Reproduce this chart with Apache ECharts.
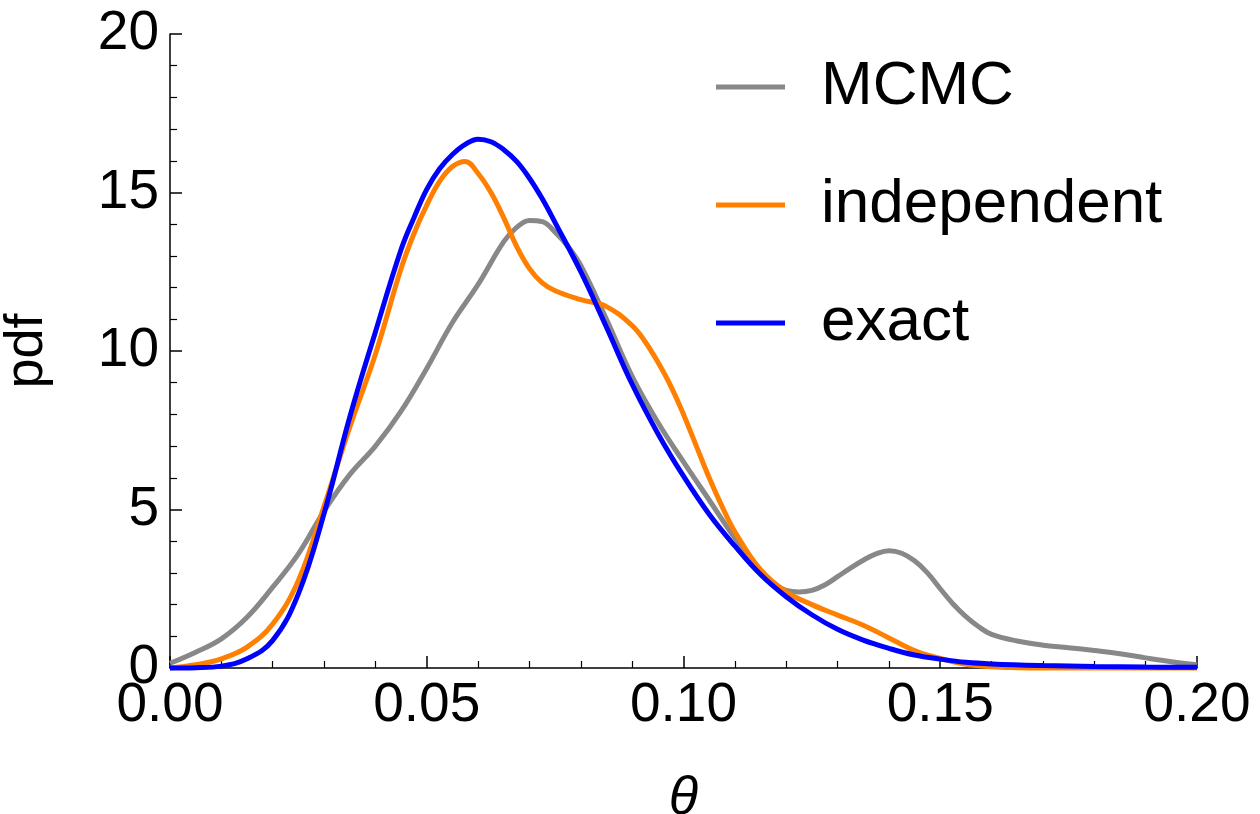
<!DOCTYPE html>
<html>
<head>
<meta charset="utf-8">
<script src="https://cdn.jsdelivr.net/npm/echarts@6/dist/echarts.min.js"></script>
<style>
html,body{margin:0;padding:0;background:#fff;}
#chart{width:1260px;height:814px;}
</style>
</head>
<body>
<div id="chart"></div>
<script>
const mcmcTheta = [0,0.005,0.01,0.015,0.02,0.025,0.03,0.035,0.04,0.045,0.05,0.055,0.06,0.065,0.0675,0.07,0.0725,0.075,0.0775,0.08,0.085,0.09,0.095,0.10,0.105,0.11,0.115,0.1175,0.12,0.1225,0.125,0.1275,0.13,0.1325,0.135,0.1375,0.14,0.1425,0.145,0.1475,0.15,0.1525,0.155,0.1575,0.16,0.165,0.17,0.175,0.18,0.185,0.19,0.195,0.20];
const mcmcValues = [0.15,0.5,0.92,1.6,2.55,3.6,4.95,6.1,7.0,8.1,9.45,10.9,12.1,13.45,13.9,14.12,14.08,13.75,13.3,12.7,11.0,9.2,7.75,6.5,5.3,4.1,3.05,2.65,2.45,2.4,2.45,2.62,2.88,3.15,3.4,3.6,3.7,3.62,3.38,3.0,2.5,2.02,1.62,1.3,1.06,0.85,0.72,0.64,0.55,0.45,0.32,0.2,0.1];
const independentTheta = [0,0.005,0.01,0.015,0.02,0.025,0.03,0.035,0.04,0.045,0.0475,0.05,0.0525,0.055,0.0575,0.06,0.0625,0.065,0.0675,0.07,0.0725,0.075,0.08,0.085,0.09,0.0925,0.095,0.0975,0.10,0.1025,0.105,0.1075,0.11,0.115,0.12,0.125,0.13,0.135,0.14,0.145,0.15,0.155,0.16,0.165,0.17,0.18,0.19,0.20];
const independentValues = [0,0.1,0.29,0.66,1.39,2.76,5.1,7.6,9.9,12.6,13.7,14.6,15.35,15.82,15.98,15.6,15.0,14.2,13.3,12.6,12.15,11.9,11.62,11.4,10.8,10.3,9.65,8.9,8.0,7.0,6.0,5.1,4.3,3.1,2.4,2.0,1.67,1.35,0.95,0.55,0.3,0.12,0.04,0.01,0,0,0,0];
const exactTheta = [0,0.005,0.01,0.015,0.02,0.025,0.03,0.035,0.04,0.045,0.0475,0.05,0.0525,0.055,0.0575,0.06,0.0625,0.065,0.0675,0.07,0.0725,0.075,0.08,0.085,0.09,0.095,0.10,0.105,0.11,0.115,0.12,0.125,0.13,0.135,0.14,0.145,0.15,0.155,0.16,0.17,0.18,0.19,0.20];
const exactValues = [0,0.01,0.06,0.29,0.87,2.34,4.87,7.91,10.6,13.2,14.2,15.1,15.75,16.2,16.52,16.68,16.6,16.35,15.98,15.45,14.8,14.05,12.5,10.75,8.95,7.4,6.05,4.85,3.85,2.95,2.25,1.68,1.22,0.88,0.62,0.41,0.28,0.18,0.13,0.08,0.05,0.03,0.02];
const seriesNames = ['MCMC','independent','exact'];
const seriesColors = ['#888888','#ff8000','#0000ff'];
const xTicks = {min:0, max:0.2, interval:0.05};
const yTicks = {min:0, max:20, interval:5};

const pairs = (xs, ys) => xs.map((t,i)=>[t, ys[i]]);
const allData = [pairs(mcmcTheta, mcmcValues), pairs(independentTheta, independentValues), pairs(exactTheta, exactValues)];
const FONT = '"Liberation Sans", Arial, sans-serif';

const chart = echarts.init(document.getElementById('chart'));
chart.setOption({
  animation:false,
  backgroundColor:'#ffffff',
  grid:{left:170, right:63, top:34, bottom:146, containLabel:false, outerBoundsMode:'none'},
  legend:{
    orient:'vertical',
    left:716, top:56,
    padding:0,
    icon:'rect',
    itemWidth:69, itemHeight:5,
    itemGap:56,
    textStyle:{fontFamily:FONT, fontSize:62, color:'#000', lineHeight:62, padding:[0,0,0,31]},
    data:seriesNames
  },
  xAxis:{
    type:'value', min:xTicks.min, max:xTicks.max, interval:xTicks.interval,
    name:'θ', nameLocation:'middle', nameGap:104,
    nameTextStyle:{fontFamily:FONT, fontSize:54, fontStyle:'italic', color:'#000'},
    axisLine:{lineStyle:{color:'#000', width:1.5}},
    axisTick:{inside:true, length:12, lineStyle:{color:'#000', width:1.5}},
    minorTick:{show:true, splitNumber:5, length:7, lineStyle:{color:'#000', width:1.2}},
    splitLine:{show:false},
    axisLabel:{fontFamily:FONT, fontSize:55, color:'#000', margin:10, formatter:v=>v.toFixed(2)}
  },
  yAxis:{
    type:'value', min:yTicks.min, max:yTicks.max, interval:yTicks.interval,
    name:'pdf', nameLocation:'middle', nameGap:116,
    nameTextStyle:{fontFamily:FONT, fontSize:54, color:'#000'},
    axisLine:{show:true, lineStyle:{color:'#000', width:1.5}},
    axisTick:{show:true, inside:true, length:12, lineStyle:{color:'#000', width:1.5}},
    minorTick:{show:true, splitNumber:5, length:7, lineStyle:{color:'#000', width:1.2}},
    splitLine:{show:false},
    axisLabel:{fontFamily:FONT, fontSize:55, color:'#000', margin:11}
  },
  series: seriesNames.map((n,i)=>({
    name:n, type:'line', data:allData[i],
    smooth:0.4, showSymbol:false, symbol:'none', clip:false,
    lineStyle:{color:seriesColors[i], width:5},
    itemStyle:{color:seriesColors[i]},
    z:2+i
  }))
});
</script>
</body>
</html>
